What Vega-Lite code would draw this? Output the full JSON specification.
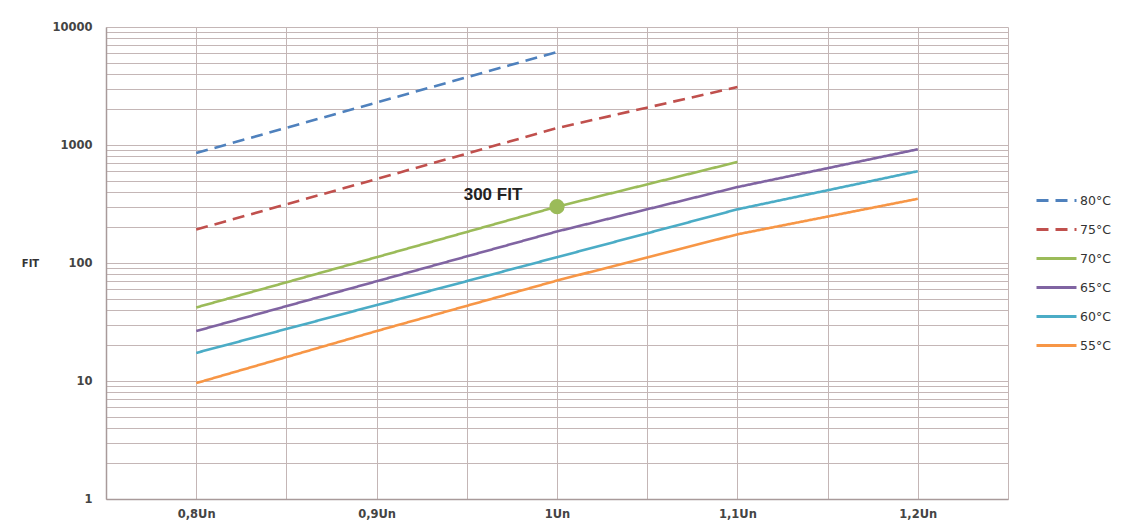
{
  "$schema": "https://vega.github.io/schema/vega-lite/v6.json",
  "width": 902,
  "height": 472,
  "autosize": {"type": "none"},
  "padding": {"left": 106, "top": 27, "right": 118, "bottom": 25},
  "background": "white",
  "config": {"view": {"stroke": null}, "font": "DejaVu Sans"},
  "datasets": {
    "series": [
      {"t": "80°C", "un": 0.8, "fit": 855},
      {"t": "80°C", "un": 0.9, "fit": 2290},
      {"t": "80°C", "un": 1.0, "fit": 6140},
      {"t": "75°C", "un": 0.8, "fit": 192},
      {"t": "75°C", "un": 0.9, "fit": 515},
      {"t": "75°C", "un": 1.0, "fit": 1390},
      {"t": "75°C", "un": 1.1, "fit": 3100},
      {"t": "70°C", "un": 0.8, "fit": 42},
      {"t": "70°C", "un": 0.9, "fit": 112},
      {"t": "70°C", "un": 1.0, "fit": 300},
      {"t": "70°C", "un": 1.1, "fit": 718},
      {"t": "65°C", "un": 0.8, "fit": 26.5},
      {"t": "65°C", "un": 0.9, "fit": 70},
      {"t": "65°C", "un": 1.0, "fit": 185},
      {"t": "65°C", "un": 1.1, "fit": 440},
      {"t": "65°C", "un": 1.2, "fit": 920},
      {"t": "60°C", "un": 0.8, "fit": 17.3},
      {"t": "60°C", "un": 0.9, "fit": 44},
      {"t": "60°C", "un": 1.0, "fit": 112},
      {"t": "60°C", "un": 1.1, "fit": 285},
      {"t": "60°C", "un": 1.2, "fit": 600},
      {"t": "55°C", "un": 0.8, "fit": 9.6},
      {"t": "55°C", "un": 0.9, "fit": 26.5},
      {"t": "55°C", "un": 1.0, "fit": 71},
      {"t": "55°C", "un": 1.1, "fit": 175},
      {"t": "55°C", "un": 1.2, "fit": 350}
    ],
    "note": [{"un": 1.0, "fit": 300, "label": "300 FIT"}]
  },
  "encoding": {
    "x": {
      "field": "un", "type": "quantitative",
      "scale": {"domain": [0.75, 1.25], "nice": false, "zero": false},
      "axis": {
        "title": null,
        "values": [0.75, 0.8, 0.85, 0.9, 0.95, 1.0, 1.05, 1.1, 1.15, 1.2, 1.25],
        "labelExpr": "datum.value == 0.8 ? '0,8Un' : datum.value == 0.9 ? '0,9Un' : datum.value == 1 ? '1Un' : datum.value == 1.1 ? '1,1Un' : datum.value == 1.2 ? '1,2Un' : ''",
        "ticks": false,
        "grid": true,
        "gridColor": "#c4b6b6",
        "gridWidth": 1,
        "domainColor": "#a89a9a",
        "domainWidth": 1.5,
        "labelFontSize": 11.5,
        "labelFontWeight": "bold",
        "labelColor": "#444",
        "labelPadding": 9,
        "labelFlush": false
      }
    },
    "y": {
      "field": "fit", "type": "quantitative",
      "scale": {"type": "log", "domain": [1, 10000], "nice": false},
      "axis": {
        "title": "FIT",
        "titleAngle": 0,
        "titleX": -76,
        "titleY": 236,
        "titleAlign": "center",
        "titleBaseline": "middle",
        "titleFontSize": 10,
        "titleFontWeight": "bold",
        "titleColor": "#333",
        "values": [1,2,3,4,5,6,7,8,9,10,20,30,40,50,60,70,80,90,100,200,300,400,500,600,700,800,900,1000,2000,3000,4000,5000,6000,7000,8000,9000,10000],
        "labelExpr": "(datum.value == 1 || datum.value == 10 || datum.value == 100 || datum.value == 1000 || datum.value == 10000) ? format(datum.value, 'd') : ''",
        "ticks": false,
        "grid": true,
        "gridColor": "#c4b6b6",
        "gridWidth": 1,
        "domainColor": "#a89a9a",
        "domainWidth": 1.5,
        "labelFontSize": 11.5,
        "labelFontWeight": "bold",
        "labelColor": "#444",
        "labelPadding": 14,
        "labelOverlap": false,
        "labelFlush": false
      }
    }
  },
  "layer": [
    {
      "data": {"name": "series"},
      "mark": {"type": "line"},
      "encoding": {
        "color": {
          "field": "t", "type": "nominal",
          "scale": {"domain": ["80°C", "75°C", "70°C", "65°C", "60°C", "55°C"],
                    "range": ["#4f81bd", "#c0504d", "#9bbb59", "#8064a2", "#4bacc6", "#f79646"]},
          "legend": {
            "title": null,
            "orient": "none",
            "legendX": 929,
            "legendY": 152,
            "symbolType": "stroke",
            "symbolSize": 1600,
            "symbolStrokeWidth": 3,
            "labelFontSize": 12.5,
            "labelColor": "#333",
            "labelOffset": 2,
            "rowPadding": 1
          }
        },
        "strokeDash": {
          "field": "t", "type": "nominal",
          "scale": {"domain": ["80°C", "75°C", "70°C", "65°C", "60°C", "55°C"],
                    "range": [[12, 7], [12, 7], [1, 0], [1, 0], [1, 0], [1, 0]]},
          "legend": {
            "title": null,
            "orient": "none",
            "legendX": 929,
            "legendY": 152,
            "symbolType": "stroke",
            "symbolSize": 1600,
            "symbolStrokeWidth": 3,
            "labelFontSize": 12.5,
            "labelColor": "#333",
            "labelOffset": 2,
            "rowPadding": 1
          }
        },
        "strokeWidth": {"value": 2.6}
      }
    },
    {
      "data": {"name": "note"},
      "mark": {"type": "point", "filled": true, "size": 230, "color": "#9bbb59", "opacity": 1}
    },
    {
      "data": {"name": "note"},
      "mark": {"type": "text", "dx": -64, "dy": -12, "fontSize": 17, "fontWeight": "bold", "font": "Liberation Sans", "color": "#222"},
      "encoding": {"text": {"field": "label"}}
    }
  ]
}
